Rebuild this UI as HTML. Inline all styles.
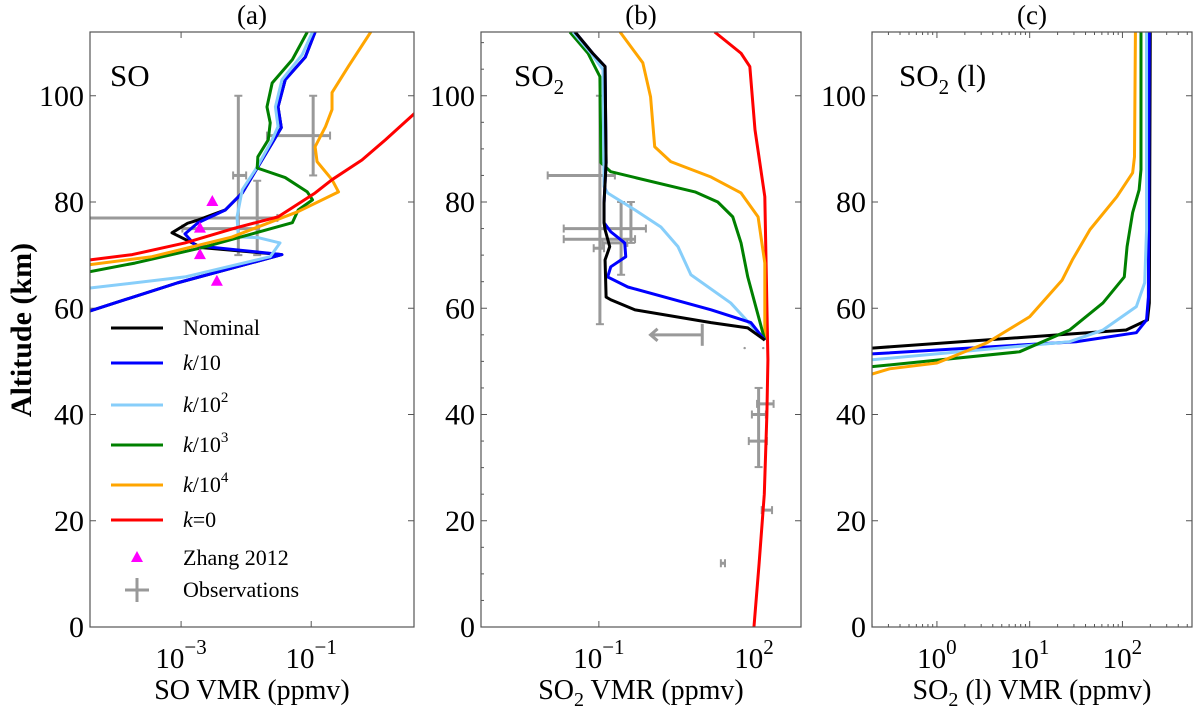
<!DOCTYPE html>
<html><head><meta charset="utf-8"><style>
body{margin:0;background:#fff;}
svg{display:block;}
svg, svg text, svg tspan{font-family:"Liberation Serif","DejaVu Serif",serif !important;}
</style></head><body>
<svg id="fig" width="1200" height="708" viewBox="0 0 1200 708" font-family="Liberation Serif, serif"></svg>
<script>
// ---------- Data (log10 VMR, altitude km) ----------
const altTicks = [0,20,40,60,80,100];
// Panel (a) SO
const soNominal = [[-4.4,59.5],[-3.05,64.8],[-1.45,70.1],[-2.68,71.4],[-3.14,74.2],[-2.9,76.0],[-2.74,76.6],[-2.32,78.5],[-2.06,81.7],[-1.83,86.4],[-1.6,91.1],[-1.46,94.0],[-1.51,97.9],[-1.4,103.0],[-1.09,107.3],[-0.94,112]];
const soK10 = [[-4.4,59.5],[-3.05,64.8],[-1.45,70.1],[-2.78,71.8],[-2.94,74.0],[-2.74,76.1],[-2.32,78.5],[-2.06,81.7],[-1.83,86.4],[-1.6,91.1],[-1.46,94.0],[-1.51,97.9],[-1.4,103.0],[-1.09,107.3],[-0.94,112]];
const soK100 = [[-4.4,63.8],[-2.94,65.9],[-1.63,69.7],[-1.48,72.3],[-1.82,73.3],[-2.12,73.4],[-2.14,77.2],[-2.06,82.3],[-1.83,86.6],[-1.6,91.7],[-1.51,94.2],[-1.55,97.9],[-1.45,103],[-1.14,107.7],[-0.98,112]];
const soK1e3 = [[-4.4,66.9],[-3.71,68.5],[-2.68,71.4],[-1.29,76.1],[-1.2,78.5],[-0.98,80.4],[-1.06,81.9],[-1.4,84.6],[-1.83,86.4],[-1.82,88.5],[-1.66,91.7],[-1.63,94.9],[-1.68,97.9],[-1.6,102.4],[-1.29,106.8],[-1.06,112]];
const soK1e4 = [[-4.4,68.2],[-3.45,69.7],[-2.22,73.4],[-1.2,78.2],[-0.58,81.9],[-0.68,84.2],[-0.91,87.6],[-0.94,90.4],[-0.78,94.2],[-0.68,97.4],[-0.68,100.6],[-0.43,105.5],[-0.09,111.9],[-0.05,113]];
const soK0 = [[-4.4,69.1],[-3.75,70.1],[-2.94,72.3],[-2.17,75.1],[-1.51,77.2],[-0.94,81.7],[-0.68,84.2],[-0.22,87.9],[0.14,91.7],[0.6,96.8]];
const zhangLog = [-2.52,-2.71,-2.71,-2.45];
const zhangAlt = [80,75,70,65];
// observations: [xLog, alt, xlo, xhi, altlo, althi]
const soObs = [[-2.12,75,-2.98,-1.8,70,100],[-1.83,77,-4.6,-1.52,70,84],[-2.12,85,-2.2,-2.0,85,85],[-0.97,92.5,-1.68,-0.71,85,100]];
// Panel (b) SO2
const so2Nominal = [[-1.46,112],[-1.12,108],[-0.88,105.5],[-0.86,87.4],[-0.9,79.8],[-0.9,76.1],[-0.88,74.8],[-0.79,71.6],[-0.88,69.1],[-0.86,62.1],[-0.77,61.6],[-0.3,59.7],[1.17,57.3],[1.88,56.3],[2.21,54]];
const so2K10 = [[-1.46,112],[-1.12,108],[-0.88,105.5],[-0.86,87.4],[-0.9,79.8],[-0.9,76.1],[-0.77,74.4],[-0.5,72.3],[-0.48,69.7],[-0.77,67.8],[-0.83,65.9],[-0.44,64],[1.17,59.7],[1.94,57.3],[2.21,54]];
const so2K100 = [[-1.5,112],[-1.15,108],[-0.92,104.9],[-0.9,82.9],[-0.83,81.7],[-0.3,78.5],[0.2,75.3],[0.53,71.6],[0.78,66.3],[1.55,61],[2.21,54]];
const so2K1e3 = [[-1.56,112],[-1.21,108],[-0.98,103.6],[-0.96,87.4],[-0.77,85.7],[0.86,81.9],[1.3,80],[1.59,77.2],[1.75,72.3],[1.88,65.9],[2.21,54]];
const so2K1e4 = [[-0.59,112],[-0.15,106.2],[0.0,99.8],[0.08,90.4],[0.39,87.6],[1.17,84.7],[1.75,81.7],[2.08,77.2],[2.21,68.5],[2.21,54]];
const so2K0 = [[1.24,112],[1.75,108],[1.92,105.5],[2.02,93.6],[2.21,81],[2.27,50.3],[2.25,40],[2.2,25],[2.1,12],[2.0,0]];
const so2Obs = [[-0.98,85,-1.99,-0.69,57,100],[-0.57,75,-1.68,-0.09,66.3,80],[-0.38,73,-1.68,-0.3,72.3,80],[-0.45,72.3,-0.93,-0.45,72.3,72.3],[-1.0,71.3,-1.1,-0.9,71.3,71.3],[2.09,42,2.06,2.38,30.1,45],[2.09,40,1.96,2.23,40,40],[2.09,35,1.9,2.25,35,35],[2.25,22,2.15,2.35,22,22],[1.4,12,1.36,1.44,12,12]];
// Panel (c) SO2 liquid
const liqNominal = [[-0.7,52.5],[2.04,55.9],[2.27,57.8],[2.29,61],[2.3,112]];
const liqK10 = [[-0.7,51.4],[1.5,53.7],[2.15,55.4],[2.26,57.8],[2.28,62.1],[2.29,112]];
const liqK100 = [[-0.7,50.3],[1.43,53.7],[1.79,55.9],[2.15,60.3],[2.24,64.8],[2.26,74.8],[2.26,112]];
const liqK1e3 = [[-0.7,49],[0.89,51.8],[1.43,55.9],[1.79,61],[2.02,65.9],[2.05,71.6],[2.11,78],[2.18,82.3],[2.2,86.1],[2.2,112]];
const liqK1e4 = [[-0.7,47.6],[-0.51,48.6],[0.0,49.7],[0.54,53.5],[1.0,58.4],[1.35,65.3],[1.46,69.1],[1.65,74.8],[1.94,81],[2.11,85.5],[2.13,88.5],[2.14,112]];

const colors = {nominal:"#000000",k10:"#0000ff",k100:"#87cefa",k1e3:"#008000",k1e4:"#ffa500",k0:"#ff0000"};
const NS="http://www.w3.org/2000/svg";
const svg=document.getElementById('fig');
function mk(tag,attrs,parent){const e=document.createElementNS(NS,tag);for(const k in attrs)e.setAttribute(k,attrs[k]);(parent||svg).appendChild(e);return e;}

const panels=[
 {id:'a',x0:90,x1:414,lmin:-4.4,lmax:0.58,xt:[-3,-1],minor:false,yminor:false,title:'(a)',
  series:[['nominal',soNominal],['k10',soK10],['k100',soK100],['k1e3',soK1e3],['k1e4',soK1e4],['k0',soK0]],obs:soObs},
 {id:'b',x0:481,x1:801,lmin:-3.28,lmax:2.91,xt:[-1,2],minor:false,yminor:true,title:'(b)',
  series:[['k0',so2K0],['k1e4',so2K1e4],['k1e3',so2K1e3],['k100',so2K100],['k10',so2K10],['nominal',so2Nominal]],obs:so2Obs},
 {id:'c',x0:872,x1:1192,lmin:-0.7,lmax:2.75,xt:[0,1,2],minor:true,yminor:false,title:'(c)',
  series:[['nominal',liqNominal],['k10',liqK10],['k100',liqK100],['k1e3',liqK1e3],['k1e4',liqK1e4]],obs:[]}
];
const Y0=627,Y1=32,AMAX=112;
function yS(a){return Y0-(a/AMAX)*(Y0-Y1);}

panels.forEach(p=>{
 const xS=l=>p.x0+(l-p.lmin)/(p.lmax-p.lmin)*(p.x1-p.x0);
 const g=mk('g',{});
 
 
 const cp=mk('clipPath',{id:'clip'+p.id},g);
 mk('rect',{x:p.x0,y:Y1,width:p.x1-p.x0,height:Y0-Y1},cp);
 const t=mk('text',{x:(p.x0+p.x1)/2,y:24,'text-anchor':'middle','font-size':27},g);
 t.textContent=p.title;
 
 
 altTicks.forEach(a=>{
  const y=yS(a);
  mk('line',{x1:p.x0,x2:p.x0+6,y1:y,y2:y,stroke:'#555','stroke-width':1},g);
  mk('line',{x1:p.x1,x2:p.x1-6,y1:y,y2:y,stroke:'#555','stroke-width':1},g);
  const tl=mk('text',{x:p.x0-6,y:y+10,'text-anchor':'end','font-size':30},g);
  tl.textContent=a;
  
  
 });
 if(p.yminor){for(let a=5;a<AMAX;a+=5){if(a%20===0)continue;const y=yS(a);
  mk('line',{x1:p.x0,x2:p.x0+3,y1:y,y2:y,stroke:'#555','stroke-width':1},g);}}
 p.xt.forEach(e=>{
  const x=xS(e);
  mk('line',{x1:x,x2:x,y1:Y0,y2:Y0-6,stroke:'#555','stroke-width':1},g);
  mk('line',{x1:x,x2:x,y1:Y1,y2:Y1+6,stroke:'#555','stroke-width':1},g);
  const tl=mk('text',{x:x,y:668,'text-anchor':'middle','font-size':29},g);
  
  
  tl.appendChild(document.createTextNode('10'));
  const sp=mk('tspan',{dy:-14,'font-size':21},tl);sp.textContent=(e<0?'\u2212'+(-e):e);
 });
 if(p.minor){for(let d=Math.floor(p.lmin);d<p.lmax;d++){for(let m=2;m<10;m++){const l=d+Math.log10(m);if(l<p.lmin||l>p.lmax)continue;const x=xS(l);
   mk('line',{x1:x,x2:x,y1:Y0,y2:Y0-3,stroke:'#555','stroke-width':1},g);
   mk('line',{x1:x,x2:x,y1:Y1,y2:Y1+3,stroke:'#555','stroke-width':1},g);}}}
 const dg=mk('g',{'clip-path':'url(#clip'+p.id+')'},g);
 p.obs.forEach(o=>{
  const og=mk('g',{stroke:'#999','stroke-width':3,fill:'none'},dg);
  
  
  const y=yS(o[1]),x=xS(o[0]);
  if(o[3]>o[2]){mk('line',{x1:xS(o[2]),x2:xS(o[3]),y1:y,y2:y},og);
   mk('line',{x1:xS(o[2]),x2:xS(o[2]),y1:y-4,y2:y+4,'stroke-width':2},og);
   mk('line',{x1:xS(o[3]),x2:xS(o[3]),y1:y-4,y2:y+4,'stroke-width':2},og);}
  if(o[5]>o[4]){mk('line',{x1:x,x2:x,y1:yS(o[4]),y2:yS(o[5])},og);
   mk('line',{x1:x-4,x2:x+4,y1:yS(o[4]),y2:yS(o[4]),'stroke-width':2},og);
   mk('line',{x1:x-4,x2:x+4,y1:yS(o[5]),y2:yS(o[5]),'stroke-width':2},og);}
 });
 if(p.id==='b'){
  const ag=mk('g',{stroke:'#999','stroke-width':3,fill:'none'},dg);
  
  
  const y=yS(55);
  mk('line',{x1:xS(0.0),x2:xS(1.0),y1:y,y2:y},ag);
  mk('line',{x1:xS(1.0),x2:xS(1.0),y1:y-11,y2:y+11},ag);
  mk('polyline',{points:`${xS(0.0)+7},${y-6} ${xS(0.0)},${y} ${xS(0.0)+7},${y+6}`},ag);
  mk('circle',{cx:xS(1.82),cy:yS(52.5),r:1.2,fill:'#999',stroke:'none'},dg);
  mk('circle',{cx:xS(2.18),cy:yS(52.5),r:1.2,fill:'#999',stroke:'none'},dg);
 }
 p.series.forEach(([k,d])=>{
  const pl=mk('polyline',{points:d.map(q=>xS(q[0])+','+yS(q[1])).join(' '),fill:'none',stroke:colors[k],'stroke-width':3,'stroke-linejoin':'round'},dg);
  
  
 });
 if(p.id==='a'){zhangLog.forEach((l,i)=>{const x=xS(l),y=yS(zhangAlt[i]);
  const tr=mk('polygon',{points:`${x},${y-7} ${x-6},${y+4} ${x+6},${y+4}`,fill:'#ff00ff'},dg);
  
  });}
 mk('rect',{x:p.x0,y:Y1,width:p.x1-p.x0,height:Y0-Y1,fill:'none',stroke:'#555','stroke-width':1.2},g);
});
</script>
<svg style="position:absolute;left:0;top:0" width="1200" height="708" font-family="Liberation Serif, serif">
 <text x="110" y="86" font-size="31">SO</text>
 <text x="514" y="86" font-size="31">SO<tspan font-size="21" dy="8">2</tspan></text>
 <text x="899" y="86" font-size="31">SO<tspan font-size="21" dy="8">2</tspan><tspan dy="-8"> (l)</tspan></text>
 <text transform="translate(31,330) rotate(-90)" text-anchor="middle" font-size="30" font-weight="bold">Altitude (km)</text>
 <text x="252" y="699" text-anchor="middle" font-size="28">SO VMR (ppmv)</text>
 <text x="641" y="699" text-anchor="middle" font-size="28">SO<tspan font-size="20" dy="7">2</tspan><tspan dy="-7"> VMR (ppmv)</tspan></text>
 <text x="1032" y="699" text-anchor="middle" font-size="28">SO<tspan font-size="20" dy="7">2</tspan><tspan dy="-7"> (l) VMR (ppmv)</tspan></text>
 <g font-size="22">
  <line x1="111" x2="163" y1="328" y2="328" stroke="#000" stroke-width="3"/><text x="183" y="335">Nominal</text>
  <line x1="111" x2="163" y1="363" y2="363" stroke="#0000ff" stroke-width="3"/><text x="183" y="370"><tspan font-style="italic">k</tspan>/10</text>
  <line x1="111" x2="163" y1="405" y2="405" stroke="#87cefa" stroke-width="3"/><text x="183" y="412"><tspan font-style="italic">k</tspan>/10<tspan font-size="15" dy="-10">2</tspan></text>
  <line x1="111" x2="163" y1="445" y2="445" stroke="#008000" stroke-width="3"/><text x="183" y="452"><tspan font-style="italic">k</tspan>/10<tspan font-size="15" dy="-10">3</tspan></text>
  <line x1="111" x2="163" y1="485" y2="485" stroke="#ffa500" stroke-width="3"/><text x="183" y="492"><tspan font-style="italic">k</tspan>/10<tspan font-size="15" dy="-10">4</tspan></text>
  <line x1="111" x2="163" y1="520" y2="520" stroke="#ff0000" stroke-width="3"/><text x="183" y="527"><tspan font-style="italic">k</tspan>=0</text>
  <polygon points="137,551 131,562 143,562" fill="#ff00ff"/><text x="183" y="565">Zhang 2012</text>
  <g stroke="#999" stroke-width="3"><line x1="125" x2="149" y1="590" y2="590"/><line x1="137" x2="137" y1="578" y2="602"/></g><text x="183" y="597">Observations</text>
 </g>
</svg>
</body></html>
